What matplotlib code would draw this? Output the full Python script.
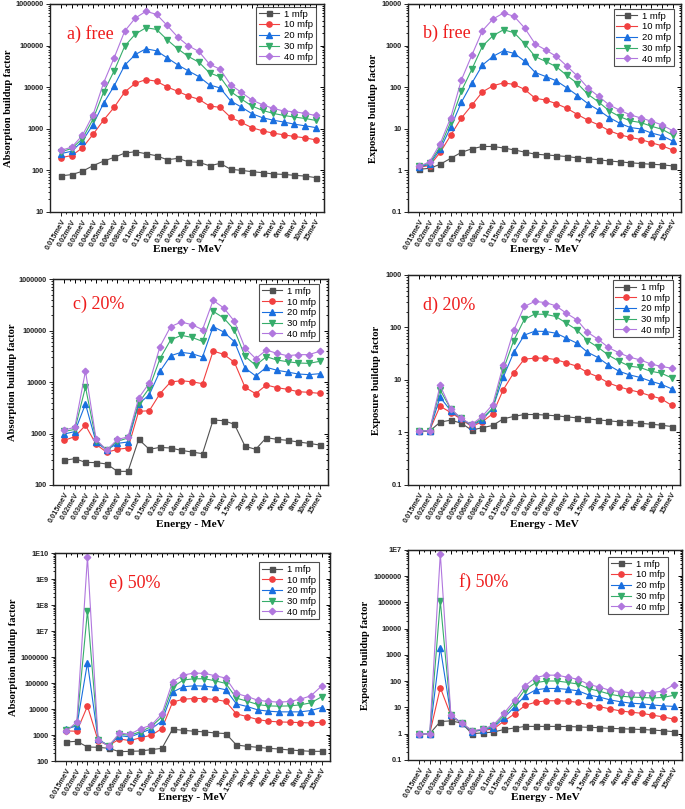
import numpy as np
import matplotlib.pyplot as plt
from matplotlib.ticker import FixedLocator, FuncFormatter, NullFormatter

plt.rcParams['font.family'] = ['Liberation Sans', 'DejaVu Sans']

energies = ['0.015meV', '0.02meV', '0.03meV', '0.04meV', '0.05meV', '0.06meV', '0.08meV',
            '0.1meV', '0.15meV', '0.2meV', '0.3meV', '0.4meV', '0.5meV', '0.6meV', '0.8meV',
            '1meV', '1.5meV', '2meV', '3meV', '4meV', '5meV', '6meV', '8meV', '10meV', '15meV']
mfp_labels = ['1 mfp', '10 mfp', '20 mfp', '30 mfp', '40 mfp']

# a) free - absorption
free_abs_1 = [74, 79, 95, 129, 167, 205, 260, 281, 251, 225, 180, 194, 161, 156, 129, 147, 106, 100, 93, 88, 82, 80, 76, 73, 67]
free_abs_10 = [203, 227, 347, 728, 1610, 3270, 7660, 12400, 15200, 13900, 10100, 7950, 6130, 5100, 3520, 3270, 1870, 1420, 1060, 893, 785, 715, 652, 605, 542]
free_abs_20 = [254, 288, 503, 1250, 4080, 10700, 33700, 61000, 83500, 74800, 50700, 34400, 24600, 17900, 11300, 9570, 4650, 3330, 2300, 1840, 1610, 1450, 1290, 1180, 1070]
free_abs_30 = [280, 335, 573, 1680, 7520, 24600, 96800, 189000, 268000, 245000, 138000, 83500, 54600, 39800, 22000, 17600, 7800, 5190, 3520, 2770, 2340, 2090, 1910, 1770, 1590]
free_abs_40 = [305, 360, 689, 2130, 12600, 50700, 223000, 459000, 665000, 563000, 305000, 160000, 98600, 72100, 35600, 27000, 11300, 7520, 4910, 3780, 3090, 2670, 2570, 2340, 2090]

# b) free - exposure
free_exp_1 = [1.06, 1.12, 1.4, 1.95, 2.7, 3.3, 3.75, 3.75, 3.45, 3.1, 2.75, 2.45, 2.35, 2.25, 2.15, 2.0, 1.9, 1.8, 1.68, 1.6, 1.52, 1.46, 1.4, 1.36, 1.28]
free_exp_10 = [1.2, 1.3, 2.7, 7.0, 18, 37, 77, 108, 127, 116, 88, 54, 49, 40, 31, 22, 16, 12.4, 9.0, 7.2, 6.2, 5.5, 4.6, 3.9, 3.1]
free_exp_20 = [1.2, 1.4, 3.2, 11, 43, 125, 340, 550, 750, 650, 420, 225, 180, 142, 96, 63, 40, 28, 18.6, 13.6, 10.7, 9.9, 7.9, 6.8, 5.1]
free_exp_30 = [1.25, 1.5, 3.7, 14.6, 80, 270, 970, 1730, 2400, 2040, 1110, 540, 415, 309, 191, 122, 67, 44, 27, 19.6, 15.5, 14.1, 11.5, 9.7, 7.1]
free_exp_40 = [1.25, 1.6, 4.4, 18.6, 148, 590, 2280, 4350, 6070, 5040, 2640, 1090, 780, 548, 320, 184, 95, 60, 37.5, 28, 21.5, 18.2, 15.2, 12.4, 9.0]

# c) 20% - absorption
p20_abs_1 = [301, 325, 275, 272, 256, 184, 184, 771, 493, 538, 523, 471, 437, 406, 1830, 1770, 1510, 564, 493, 830, 771, 736, 684, 644, 598]
p20_abs_10 = [736, 869, 1440, 617, 431, 493, 523, 2690, 2770, 5930, 10000, 10600, 10100, 9290, 40000, 34400, 24100, 7880, 5930, 8750, 7760, 7210, 6490, 6300, 6020]
p20_abs_20 = [977, 1090, 3740, 673, 478, 644, 684, 3740, 5680, 16100, 32400, 37700, 35500, 30600, 119000, 93500, 60700, 18700, 13100, 19300, 16900, 15600, 14300, 13900, 14500]
p20_abs_30 = [1100, 1200, 8000, 726, 485, 705, 818, 3910, 7640, 28400, 65400, 80500, 73600, 61600, 236000, 175000, 102000, 31500, 21100, 31000, 26700, 24800, 23400, 23000, 25200]
p20_abs_40 = [1170, 1320, 16400, 771, 471, 771, 855, 4890, 9570, 48500, 119000, 146000, 130000, 104000, 385000, 274000, 151000, 45700, 28400, 41800, 36000, 32400, 34000, 34000, 39400]

# d) 20% - exposure
p20_exp_1 = [1.06, 1.06, 1.57, 1.72, 1.51, 1.11, 1.23, 1.36, 1.82, 2.02, 2.2, 2.2, 2.15, 2.08, 1.99, 1.9, 1.82, 1.74, 1.67, 1.6, 1.55, 1.5, 1.44, 1.38, 1.3]
p20_exp_10 = [1.06, 1.09, 3.18, 2.4, 1.79, 1.3, 1.6, 2.27, 6.5, 13.7, 24.9, 26.1, 26.1, 24.5, 21.2, 18.3, 13.9, 11.5, 8.8, 7.4, 6.5, 5.8, 5.0, 4.4, 3.3]
p20_exp_20 = [1.06, 1.09, 4.7, 2.62, 1.85, 1.34, 1.74, 2.9, 11.3, 33.4, 71.5, 85, 84, 78, 62.7, 50.3, 33.9, 26.8, 19.2, 14.7, 12.5, 11.2, 9.5, 8.3, 6.8]
p20_exp_30 = [1.06, 1.09, 6.5, 2.83, 1.85, 1.38, 1.85, 2.9, 15.6, 56.5, 142, 180, 178, 162, 121, 90, 56.5, 42, 29.7, 22.8, 18.3, 17.3, 14.7, 13.5, 11.0]
p20_exp_40 = [1.06, 1.09, 7.9, 2.86, 1.85, 1.42, 2.02, 3.4, 19.2, 87.7, 251, 313, 299, 259, 187, 140, 81.5, 60, 41.6, 32.9, 27.2, 24.2, 20.3, 18.1, 16.8]

# e) 50% - absorption
p50_abs_1 = [541, 574, 347, 337, 308, 229, 236, 243, 274, 308, 1670, 1520, 1400, 1320, 1200, 1140, 414, 368, 337, 308, 290, 266, 250, 236, 236]
p50_abs_10 = [1440, 1400, 12900, 609, 391, 706, 609, 794, 977, 1770, 18400, 23900, 25400, 25400, 23300, 19500, 6500, 5140, 3940, 3400, 3200, 3100, 3010, 2920, 3100]
p50_abs_20 = [1720, 2240, 604000, 685, 391, 948, 843, 1200, 1720, 3490, 44600, 71600, 78300, 76000, 67600, 55000, 15800, 12500, 9290, 8250, 7780, 7780, 7780, 8750, 11400]
p50_abs_30 = [1600, 2600, 5.96e7, 665, 380, 1070, 977, 1360, 2110, 4990, 69500, 130000, 146000, 146000, 122000, 96400, 26200, 20100, 14900, 13200, 12900, 13200, 14500, 17300, 29400]
p50_abs_40 = [1400, 3200, 7.0e9, 665, 368, 1200, 1070, 1770, 2380, 6500, 112000, 202000, 242000, 234000, 191000, 155000, 39600, 30300, 21900, 19500, 18400, 19500, 23900, 32200, 76000]

# f) 50% - exposure
p50_exp_1 = [1.0, 1.0, 2.9, 3.1, 2.55, 1.0, 1.08, 1.15, 1.45, 1.65, 1.9, 1.9, 1.9, 1.9, 1.88, 1.82, 1.75, 1.7, 1.6, 1.55, 1.5, 1.45, 1.38, 1.3, 1.2]
p50_exp_10 = [1.0, 1.0, 57, 4.9, 2.55, 1.25, 1.35, 1.5, 3.0, 5.7, 12, 16, 18, 18, 17.5, 15.5, 12.5, 10.8, 8.8, 7.4, 6.6, 6.0, 5.1, 4.4, 3.6]
p50_exp_20 = [1.0, 1.0, 1900, 5.0, 2.55, 1.2, 1.4, 1.7, 4.0, 10.5, 28, 47, 53, 53, 49, 43, 30, 25, 19.5, 16.5, 14.5, 13.8, 12.5, 11.5, 11]
p50_exp_30 = [1.0, 1.0, 112000, 5.0, 2.55, 1.25, 1.45, 1.9, 5.0, 14, 48, 88, 102, 102, 90, 78, 52, 42, 32, 27, 25, 24, 23, 24, 29]
p50_exp_40 = [1.0, 1.0, 7.2e6, 5.0, 2.6, 1.3, 1.5, 2.1, 6.0, 18.6, 68, 138, 170, 170, 142, 118, 75, 60, 45, 40, 36, 36, 37, 42, 72]

colors = ['#515151', '#F14040', '#1A6FDF', '#37AD6B', '#B177DE']
markers = ['s', 'o', '^', 'v', 'D']
msizes = [3.6, 3.8, 3.9, 3.9, 3.3]
serif = ['Liberation Serif', 'DejaVu Serif']


def yfmt(v, pos):
    e = int(round(np.log10(v)))
    if e >= 7:
        return '1E%d' % e
    if e >= 0:
        return str(10 ** e)
    return '0.1'


def panel(rect, series, ylim, ylabel, tag, tagxy, leg_xy, ylab_x, xlab_y):
    ax = fig.add_axes(rect)
    x = np.arange(len(energies))
    for s, lab, c, m, ms in zip(series, mfp_labels, colors, markers, msizes):
        ax.plot(x, s, color=c, marker=m, markersize=ms, markeredgecolor=c,
                linewidth=0.8, label=lab)
    ax.set_yscale('log')
    ax.set_ylim(*ylim)
    ax.set_xlim(-1.05, 24.8)

    lo, hi = int(round(np.log10(ylim[0]))), int(round(np.log10(ylim[1])))
    major = [10.0 ** k for k in range(lo, hi + 1)]
    minor = [m * 10.0 ** k for k in range(lo, hi) for m in range(2, 10)]
    ax.yaxis.set_major_locator(FixedLocator(major))
    ax.yaxis.set_minor_locator(FixedLocator(minor))
    ax.yaxis.set_major_formatter(FuncFormatter(yfmt))
    ax.yaxis.set_minor_formatter(NullFormatter())
    ax.set_xticks(x)
    ax.set_xticks(x[:-1] + 0.5, minor=True)
    ax.set_xticklabels(energies, rotation=60, ha='right', rotation_mode='anchor')

    ax.tick_params(which='both', direction='out', width=0.7, labelsize=5.3,
                   pad=1.5, colors='#222222')
    ax.tick_params(which='major', length=3)
    ax.tick_params(which='minor', length=1.6)
    for t in ax.get_xticklabels() + ax.get_yticklabels():
        t.set_fontweight('bold')

    # mirrored axes on top / right with inward ticks
    top = ax.secondary_xaxis('top')
    top.set_xticks(x)
    top.set_xticks(x[:-1] + 0.5, minor=True)
    top.tick_params(which='both', direction='in', labeltop=False, width=0.7)
    top.tick_params(which='major', length=3)
    top.tick_params(which='minor', length=1.6)
    right = ax.secondary_yaxis('right')
    right.yaxis.set_major_locator(FixedLocator(major))
    right.yaxis.set_minor_locator(FixedLocator(minor))
    right.tick_params(which='both', direction='in', labelright=False, width=0.7)
    right.tick_params(which='major', length=3)
    right.tick_params(which='minor', length=1.6)

    for sp in ax.spines.values():
        sp.set_linewidth(1.0)
        sp.set_color('#222222')

    ax.set_ylabel(ylabel, family=serif, fontweight='bold', fontsize=7.6)
    ax.yaxis.set_label_coords(ylab_x, 0.5)
    ax.set_xlabel('Energy - MeV', family=serif, fontweight='bold', fontsize=8.2)
    ax.xaxis.set_label_coords(0.5, xlab_y)

    ax.text(tagxy[0], tagxy[1], tag, transform=ax.transAxes, color='#ee1c1c',
            family=serif, fontsize=13, ha='left', va='center')

    leg = ax.legend(loc='upper right', bbox_to_anchor=leg_xy, fontsize=6.8,
                    frameon=True, fancybox=False, edgecolor='#222222',
                    handlelength=2.2, handletextpad=0.5, labelspacing=0.18,
                    borderpad=0.3, borderaxespad=0)
    leg.get_frame().set_linewidth(0.8)
    return ax


fig = plt.figure(figsize=(6.85, 8.09), dpi=100)

panel([0.0730, 0.7380, 0.4000, 0.2571],
      [free_abs_1, free_abs_10, free_abs_20, free_abs_30, free_abs_40],
      (10, 1e6), 'Absorption buildup factor', 'a) free', (0.062, 0.856),
      (0.971, 0.986), -0.135, -0.159)
panel([0.5956, 0.7380, 0.3985, 0.2571],
      [free_exp_1, free_exp_10, free_exp_20, free_exp_30, free_exp_40],
      (0.1, 1e4), 'Exposure buildup factor', 'b) free', (0.055, 0.86),
      (0.974, 0.976), -0.110, -0.159)
panel([0.0774, 0.4005, 0.4015, 0.2546],
      [p20_abs_1, p20_abs_10, p20_abs_20, p20_abs_30, p20_abs_40],
      (100, 1e6), 'Absorption buildup factor', 'c) 20%', (0.073, 0.879),
      (0.967, 0.976), -0.131, -0.170)
panel([0.5956, 0.4005, 0.3971, 0.2596],
      [p20_exp_1, p20_exp_10, p20_exp_20, p20_exp_30, p20_exp_40],
      (0.1, 1e3), 'Exposure buildup factor', 'd) 20%', (0.055, 0.857),
      (0.974, 0.976), -0.099, -0.167)
panel([0.0803, 0.0593, 0.4015, 0.2571],
      [p50_abs_1, p50_abs_10, p50_abs_20, p50_abs_30, p50_abs_40],
      (100, 1e10), 'Absorption buildup factor', 'e) 50%', (0.196, 0.856),
      (0.96, 0.957), -0.135, -0.154)
panel([0.5956, 0.0606, 0.4000, 0.2596],
      [p50_exp_1, p50_exp_10, p50_exp_20, p50_exp_30, p50_exp_40],
      (0.1, 1e7), 'Exposure buildup factor', 'f) 50%', (0.186, 0.848),
      (0.949, 0.967), -0.139, -0.157)

fig.savefig('out.png', dpi=100)
